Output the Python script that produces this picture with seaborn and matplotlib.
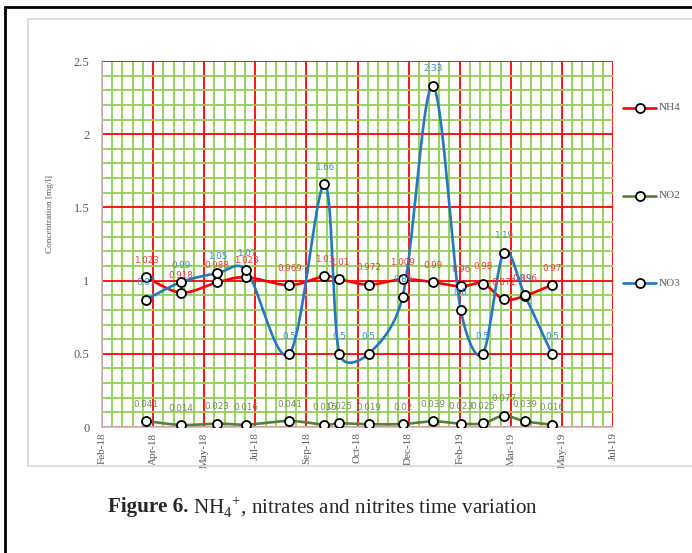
import numpy as np
import pandas as pd
import matplotlib
matplotlib.use("Agg")
import matplotlib.pyplot as plt
import matplotlib.dates as mdates
from matplotlib.lines import Line2D
import seaborn as sns

sns.set_style("white")
plt.rcParams['font.family'] = ['DejaVu Sans']
plt.rcParams['mathtext.fontset'] = 'custom'
plt.rcParams['mathtext.rm'] = 'Liberation Serif'

# --- data ---
sample_dates = ['2018-03-26', '2018-04-30', '2018-06-05', '2018-07-04', '2018-08-16',
                '2018-09-20', '2018-10-05', '2018-11-03', '2018-12-07', '2019-01-06',
                '2019-02-03', '2019-02-25', '2019-03-18', '2019-04-08', '2019-05-05']
nh4 = [1.023, 0.918, 0.988, 1.023, 0.969, 1.03, 1.01, 0.972, 1.009, 0.99,
       0.96, 0.98, 0.872, 0.896, 0.97]
no2 = [0.041, 0.014, 0.023, 0.016, 0.041, 0.015, 0.025, 0.019, 0.02, 0.039,
       0.023, 0.025, 0.077, 0.039, 0.016]
no3 = [0.87, 0.99, 1.05, 1.07, 0.5, 1.66, 0.5, 0.5, 0.89, 2.33,
       0.8, 0.5, 1.19, 0.9, 0.5]
series_names = ['NH4', 'NO2', 'NO3']
line_colors = {'NH4': '#FF0000', 'NO2': '#548235', 'NO3': '#2478C2'}
label_colors = {'NH4': '#F23A3A', 'NO2': '#6F8F55', 'NO3': '#3A8AD0'}
axis_start = '2018-02-10'   # Excel date axis, major unit 51 days

dates = pd.to_datetime(sample_dates)
xnum = mdates.date2num(dates)
values = {'NH4': nh4, 'NO2': no2, 'NO3': no3}


def smooth(pts, n=40):
    # Excel-style smoothed line, computed in screen pixels:
    # cardinal bezier, control arm capped at half the segment length
    P = np.vstack([pts[0], pts, pts[-1]])
    t = np.linspace(0, 1, n)[:, None]
    segs = []
    for i in range(1, len(P) - 2):
        p0, p1, p2, p3 = P[i - 1], P[i], P[i + 1], P[i + 2]
        half = np.linalg.norm(p2 - p1) / 2
        a1 = (p2 - p0) / 6
        a2 = (p3 - p1) / 6
        if np.linalg.norm(a1) > half:
            a1 = a1 * half / np.linalg.norm(a1)
        if np.linalg.norm(a2) > half:
            a2 = a2 * half / np.linalg.norm(a2)
        c1 = p1 + a1
        c2 = p2 - a2
        segs.append((1 - t) ** 3 * p1 + 3 * (1 - t) ** 2 * t * c1
                    + 3 * (1 - t) * t ** 2 * c2 + t ** 3 * p2)
    return np.vstack(segs)


W, H = 692, 553
fig = plt.figure(figsize=(W / 100, H / 100), dpi=100)
ax = fig.add_axes([102 / W, (H - 427) / H, 511 / W, 366 / H])

major = mdates.date2num(pd.date_range(axis_start, periods=11, freq='51D'))
ax.set_xlim(major[0], major[-1])
ax.set_ylim(0, 2.5)

for name in series_names:
    disp = ax.transData.transform(np.column_stack([xnum, values[name]]))
    curve = ax.transData.inverted().transform(smooth(disp))
    sns.lineplot(x=curve[:, 0], y=curve[:, 1], sort=False, estimator=None,
                 color=line_colors[name], lw=1.9, ax=ax, zorder=3)
for name in series_names:
    sns.scatterplot(x=xnum, y=values[name], marker='o', s=42, color='white',
                    edgecolor='black', linewidth=1.3, ax=ax, zorder=5)
    for xv, v in zip(xnum, values[name]):
        ax.annotate(f"{v:g}", (xv, v), xytext=(0, 12.2), textcoords='offset points',
                    ha='center', va='center', fontsize=6.3, color=label_colors[name],
                    zorder=6)

# axes, ticks, grid
ax.set_xlim(major[0], major[-1])
ax.set_ylim(0, 2.5)
ax.set_xticks(major)
ax.set_xticks(np.linspace(major[0], major[-1], 51), minor=True)
ax.xaxis.set_major_formatter(mdates.DateFormatter('%b-%y'))
ax.set_yticks([0, 0.5, 1, 1.5, 2, 2.5])
ax.set_yticklabels(['0', '0.5', '1', '1.5', '2', '2.5'])
ax.set_yticks(np.arange(0, 2.51, 0.1), minor=True)
ax.grid(which='minor', color='#92D050', lw=1.3, zorder=0)
ax.grid(which='major', color='#FF0000', lw=1.3, zorder=1)
ax.set_axisbelow(True)
ax.tick_params(axis='both', which='both', length=0)
ax.tick_params(axis='y', pad=9)
ax.tick_params(axis='x', pad=4)
for lab in ax.get_yticklabels():
    lab.set_fontfamily('Liberation Serif')
    lab.set_fontsize(9)
    lab.set_color('#595959')
for lab in ax.get_xticklabels():
    lab.set_fontfamily('Liberation Serif')
    lab.set_fontsize(8)
    lab.set_color('#595959')
    lab.set_rotation(90)
ax.set_xlabel('')
ax.set_ylabel('')
for s in ['top', 'right']:
    ax.spines[s].set_visible(False)
for s in ['left', 'bottom']:
    ax.spines[s].set_color('#BFBFBF')
    ax.spines[s].set_linewidth(1.2)

fig.text(50 / W, 1 - 214 / H, 'Concentration [mg/l]', rotation=90, ha='center',
         va='center', fontsize=6.7, family='Liberation Serif', color='#595959')


def fx(px):
    return px / W


def fy(py):
    return 1 - py / H


# legend drawn at the right like the Excel chart
for name, py in zip(series_names, [108, 196, 283]):
    fig.add_artist(Line2D([fx(623), fx(656)], [fy(py), fy(py)],
                          color=line_colors[name], lw=1.9))
    fig.add_artist(Line2D([fx(640)], [fy(py)], marker='o', markersize=6.5,
                          markerfacecolor='white', markeredgecolor='black',
                          markeredgewidth=1.3, linestyle='none'))
    fig.text(fx(659), fy(py), name, ha='left', va='center', fontsize=8,
             family='Liberation Serif', color='#595959')

# chart area border and outer frame
gray = '#D9D9D9'
fig.add_artist(Line2D([fx(28), fx(28)], [fy(19), fy(466)], color=gray, lw=1.2))
fig.add_artist(Line2D([fx(28), fx(W)], [fy(19), fy(19)], color=gray, lw=1.2))
fig.add_artist(Line2D([fx(28), fx(W)], [fy(466), fy(466)], color=gray, lw=1.2))
fig.add_artist(Line2D([fx(5), fx(5)], [fy(7), 0], color='black', lw=2))
fig.add_artist(Line2D([fx(5), fx(W)], [fy(7), fy(7)], color='black', lw=2))

# caption
renderer = fig.canvas.get_renderer()
t1 = fig.text(fx(108), fy(507), 'Figure 6.', ha='left', va='center', fontsize=15.2,
              fontweight='bold', family='Liberation Serif')
bb = t1.get_window_extent(renderer=renderer)
fig.text(bb.x1 / W + fx(5), fy(507), r'NH$_{4}$$^{+}$, nitrates and nitrites time variation',
         ha='left', va='center', fontsize=15.2, family='Liberation Serif')

fig.savefig('out.png', dpi=100)
